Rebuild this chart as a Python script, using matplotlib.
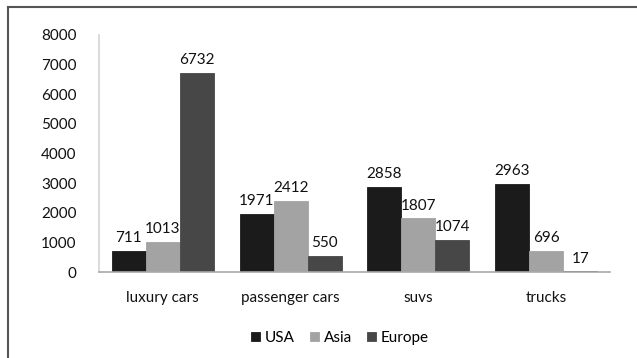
import numpy as np
import matplotlib.pyplot as plt
from matplotlib.lines import Line2D

# sales by vehicle type and region
categories = ['luxury cars', 'passenger cars', 'suvs', 'trucks']
regions = ['USA', 'Asia', 'Europe']
usa = [711, 1971, 2858, 2963]
asia = [1013, 2412, 1807, 696]
europe = [6732, 550, 1074, 17]
colors = ['#1b1b1b', '#a3a3a3', '#474747']

plt.rcParams['font.family'] = ['Lato', 'DejaVu Sans']

W, H = 637, 358
fig = plt.figure(figsize=(W / 100, H / 100), dpi=100)
fig.patch.set_facecolor('white')

# plot area in pixels: left 99, right 610, top 35, bottom 272
ax = fig.add_axes([99 / W, 1 - 272 / H, (610 - 99) / W, (272 - 35) / H])

x = np.arange(len(categories))
bw = 1 / 3.75
series = [usa, asia, europe]
for i, (vals, c, name) in enumerate(zip(series, colors, regions)):
    pos = x + (i - 1) * bw
    bars = ax.bar(pos, vals, width=bw, color=c, edgecolor=c, linewidth=0.6, label=name)
    for b, v in zip(bars, vals):
        ax.text(b.get_x() + b.get_width() / 2, v + 200, str(v),
                ha='center', va='bottom', fontsize=11, color='#111111')

ax.set_xlim(-0.5, len(categories) - 0.5)
ax.set_ylim(0, 8000)
ax.set_yticks(range(0, 8001, 1000))
ax.set_xticks(x)
ax.set_xticklabels(categories)
ax.tick_params(length=0, labelsize=11, colors='#111111')
ax.tick_params(axis='x', pad=14)
ax.tick_params(axis='y', pad=16)

for s in ['top', 'right']:
    ax.spines[s].set_visible(False)
ax.spines['left'].set_color('#d4d4d4')
ax.spines['bottom'].set_color('#a8a8a8')
ax.spines['left'].set_linewidth(1.2)
ax.spines['bottom'].set_linewidth(1.2)

leg = fig.legend(loc='center', bbox_to_anchor=(340 / W, 1 - 338 / H), ncol=3,
                 frameon=False, fontsize=11, handlelength=0.6, handleheight=0.6,
                 handletextpad=0.3, columnspacing=1.0)

# frame lines along top and left edge
fig.add_artist(Line2D([8 / W, 1], [1 - 7 / H, 1 - 7 / H], color='#555555', linewidth=1.5))
fig.add_artist(Line2D([8 / W, 8 / W], [0, 1 - 7 / H], color='#555555', linewidth=1.5))

fig.savefig('out.png', dpi=100)
